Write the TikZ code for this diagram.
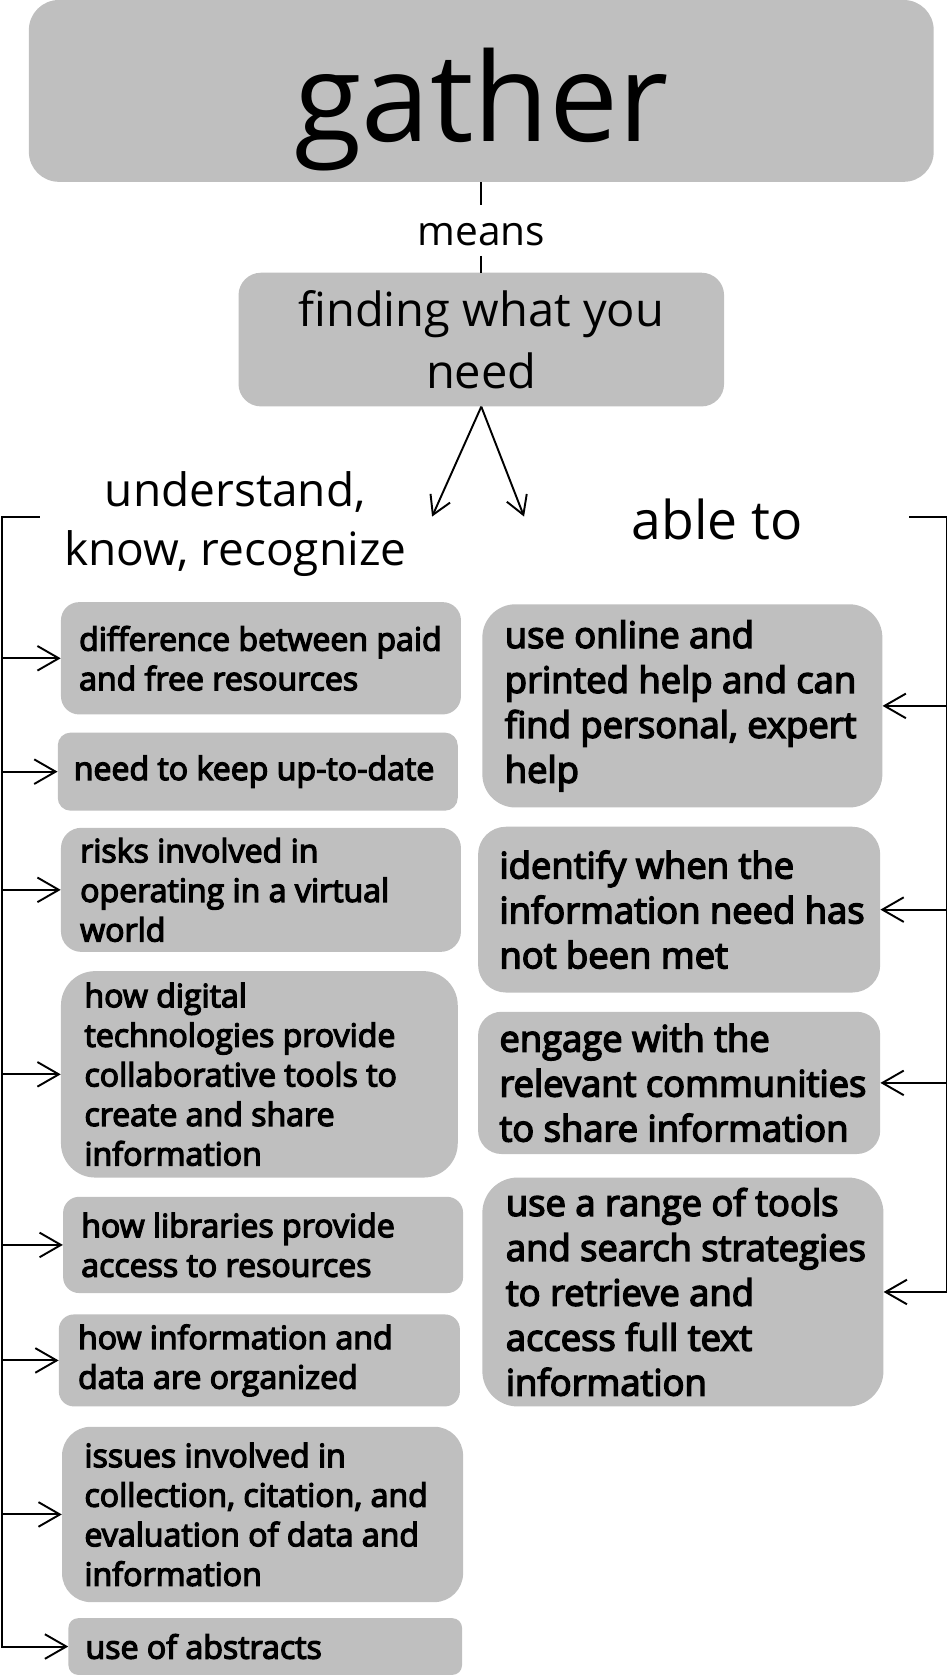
\documentclass[tikz,border=0pt]{standalone}
\usepackage{fontspec}
\setmainfont{Open Sans}
\newfontfamily\boxfont{Open Sans}[FakeBold=4]
\usetikzlibrary{arrows.meta}
\definecolor{boxgray}{RGB}{191,191,191}
\newcommand{\bt}[3]{\hspace*{#1pt}\parbox[c]{\dimexpr#2pt-#1pt\relax}{\raggedright #3}}
\tikzset{
  box/.style={fill=boxgray, draw=none, inner sep=0pt, anchor=center},
  lbox/.style={box, font=\boxfont\fontsize{30}{37}\selectfont},
  rbox/.style={box, font=\boxfont\fontsize{34}{42}\selectfont},
  conn/.style={line width=1.8pt, draw=black},
  arr/.style={conn, -{Straight Barb[length=20pt,width=23pt]}},
  arrs/.style={conn, -{Straight Barb[length=17pt,width=20pt]}},
  plain/.style={inner sep=0pt, align=center}
}
\begin{document}
\begin{tikzpicture}[x=1pt,y=-1pt]
\useasboundingbox (0,0) rectangle (887,1568);

% top
\node[box, minimum width=846pt, minimum height=170pt, rounded corners=28pt,
      font=\fontsize{115}{140}\selectfont, text height=94pt, text depth=0pt] (gather) at (450,85) {gather};
\node[font=\fontsize{38}{46}\selectfont, inner xsep=0pt, inner ysep=9pt,
      text height=29pt, text depth=0pt] (means) at (450,215.5) {means};
\node[box, minimum width=454pt, minimum height=125pt, rounded corners=21pt, align=center,
      font=\fontsize{44}{58}\selectfont] (finding) at (450,317.5) {finding what you\\need};
\draw[conn] (gather.south) -- (means.north);
\draw[conn] (means.south) -- (finding.north);

\node[plain, font=\fontsize{43}{55}\selectfont] (und) at (220,490) {understand,\\know, recognize};
\node[plain, font=\fontsize{50}{60}\selectfont] (able) at (670.5,486) {able to};

\coordinate (ua) at (404,483);
\coordinate (aa) at (490,483);
\draw[arrs] (finding.south) -- (ua);
\draw[arrs] (finding.south) -- (aa);

% left boxes
\node[lbox, minimum width=374pt, minimum height=105pt, rounded corners=17pt] (L1) at (244,615.5)
  {\bt{17}{374}{difference between paid\\and free resources}};
\node[lbox, minimum width=374pt, minimum height=73pt, rounded corners=12pt] (L2) at (241,721.5)
  {\bt{15}{374}{need to keep up-to-date}};
\node[lbox, minimum width=374pt, minimum height=116pt, rounded corners=19pt] (L3) at (244,832)
  {\bt{18}{374}{risks involved in\\operating in a virtual\\world}};
\node[lbox, minimum width=371pt, minimum height=193pt, rounded corners=32pt] (L4) at (242.5,1004.5)
  {\bt{22}{371}{how digital\\technologies provide\\collaborative tools to\\create and share\\information}};
\node[lbox, minimum width=374pt, minimum height=90pt, rounded corners=15pt] (L5) at (246,1164)
  {\bt{17}{374}{how libraries provide\\access to resources}};
\node[lbox, minimum width=375pt, minimum height=86pt, rounded corners=14pt] (L6) at (242.5,1272)
  {\bt{18}{375}{how information and\\data are organized}};
\node[lbox, minimum width=375pt, minimum height=164pt, rounded corners=27pt] (L7) at (245.5,1416)
  {\bt{21}{375}{issues involved in\\collection, citation, and\\evaluation of data and\\information}};
\node[lbox, minimum width=368pt, minimum height=53pt, rounded corners=9pt] (L8) at (248,1539.5)
  {\bt{16}{368}{use of abstracts}};

% right boxes
\node[rbox, minimum width=374pt, minimum height=190pt, rounded corners=31pt] (R1) at (638,660)
  {\bt{21}{374}{use online and\\printed help and can\\find personal, expert\\help}};
\node[rbox, minimum width=376pt, minimum height=155pt, rounded corners=26pt] (R2) at (635,850.5)
  {\bt{20}{376}{identify when the\\information need has\\not been met}};
\node[rbox, minimum width=376pt, minimum height=133pt, rounded corners=22pt] (R3) at (635,1012.5)
  {\bt{20}{376}{engage with the\\relevant communities\\to share information}};
\node[rbox, minimum width=375pt, minimum height=214pt, rounded corners=33pt] (R4) at (638.5,1208)
  {\bt{22}{375}{use a range of tools\\and search strategies\\to retrieve and\\access full text\\information}};

% left bracket
\coordinate (ltop) at (37,483);
\coordinate (lcorner) at (2,483);
\draw[arr] (ltop) -- (lcorner) |- (L8.west);
\foreach \n in {L1,L2,L3,L4,L5,L6,L7}
  \draw[arr] (lcorner |- \n.west) -- (\n.west);

% right bracket
\coordinate (rtop) at (850,483);
\coordinate (rcorner) at (885,483);
\draw[arr] (rtop) -- (rcorner) |- (R4.east);
\foreach \n in {R1,R2,R3}
  \draw[arr] (rcorner |- \n.east) -- (\n.east);
\end{tikzpicture}
\end{document}
